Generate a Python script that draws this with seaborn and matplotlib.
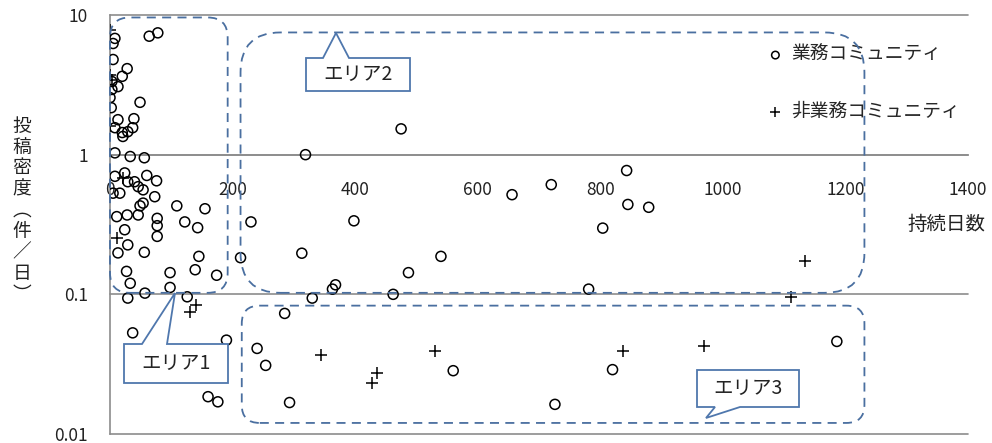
import matplotlib
matplotlib.use("Agg")
import matplotlib.pyplot as plt
import seaborn as sns
import pandas as pd
import numpy as np
from matplotlib.patches import FancyBboxPatch, PathPatch
from matplotlib.path import Path
from matplotlib.transforms import IdentityTransform
from matplotlib.ticker import FixedLocator, FixedFormatter, NullLocator

# 業務コミュニティ (days, posts/day)
biz_days = [8, 5, 64, 78, 5, 28, 20, 3, 13, 3, 0, 49, 2, 13, 39, 8, 20, 29, 37, 21,
            8, 33, 56, 8, 24, 29, 40, 60, 76, 5, 16, 46, 54, 73, 54, 49, 109, 155,
            11, 28, 46, 77, 122, 143, 24, 77, 77, 29, 13, 56, 145, 139, 27, 98, 33,
            98, 174, 57, 29, 126, 37, 190, 160, 176,
            319, 475, 230, 213, 398, 313, 540, 487, 368, 363, 462, 330, 781, 285,
            240, 254, 293, 560, 726, 820, 656, 720, 843, 845, 879, 804, 1186]
biz_density = [6.8, 6.25, 7.05, 7.45, 4.8, 4.13, 3.64, 3.34, 3.07, 2.93, 2.56, 2.37, 2.17,
               1.78, 1.81, 1.56, 1.44, 1.46, 1.56, 1.35,
               1.03, 0.97, 0.95, 0.70, 0.74, 0.64, 0.64, 0.71, 0.65, 0.53, 0.53, 0.59,
               0.56, 0.50, 0.45, 0.43, 0.43, 0.41, 0.36, 0.37, 0.37, 0.35, 0.33, 0.30,
               0.29, 0.31, 0.26, 0.226, 0.198, 0.20, 0.187, 0.15, 0.146, 0.143, 0.12,
               0.112, 0.137, 0.102, 0.094, 0.096, 0.053, 0.047, 0.0185, 0.017,
               1.0, 1.53, 0.33, 0.183, 0.336, 0.197, 0.187, 0.143, 0.117, 0.109, 0.10,
               0.094, 0.109, 0.073, 0.041, 0.031, 0.0168, 0.0284, 0.0163, 0.0289,
               0.517, 0.61, 0.77, 0.44, 0.42, 0.298, 0.046]

# 非業務コミュニティ
nonbiz_days = [0, 0, 3, 0, 21, 11, 141, 131, 345, 436, 427, 531, 837, 969, 1134, 1111]
nonbiz_density = [7.78, 3.7, 3.4, 1.6, 0.68, 0.255, 0.084, 0.075, 0.037, 0.0275, 0.023,
                  0.0396, 0.0394, 0.043, 0.172, 0.095]

labels = ["業務コミュニティ", "非業務コミュニティ"]
x_ticks = [0, 200, 400, 600, 800, 1000, 1200, 1400]
y_ticks = [0.01, 0.1, 1, 10]
y_tick_labels = ["0.01", "0.1", "1", "10"]

df = pd.DataFrame({
    "days": biz_days + nonbiz_days,
    "density": biz_density + nonbiz_density,
    "group": [labels[0]] * len(biz_days) + [labels[1]] * len(nonbiz_days),
})

sns.set_style("white")
plt.rcParams["font.family"] = ["Noto Sans CJK JP", "DejaVu Sans"]

W, H = 992, 443
fig = plt.figure(figsize=(W / 100, H / 100), dpi=100)
ax = fig.add_axes([110 / W, 9 / H, 858 / W, 419 / H])

grey = "#8c8c8c"
blue = "#4a6fa0"
ink = "#222222"

sns.scatterplot(data=df[df.group == labels[0]], x="days", y="density", ax=ax,
                marker="o", s=52, facecolor="none", edgecolor="black",
                linewidth=1.1, label=labels[0], zorder=4)
sns.scatterplot(data=df[df.group == labels[1]], x="days", y="density", ax=ax,
                marker="+", s=85, color="black", linewidth=1.1,
                label=labels[1], zorder=4)

ax.set_yscale("log")
ax.set_xlim(0, 1400)
ax.set_ylim(0.01, 10)

for y in y_ticks:
    ax.axhline(y, color=grey, lw=1.2, zorder=1, clip_on=False)

ax.spines["top"].set_visible(False)
ax.spines["right"].set_visible(False)
ax.spines["left"].set_color(grey)
ax.spines["left"].set_linewidth(1.2)
ax.spines["bottom"].set_position(("data", 1))
ax.spines["bottom"].set_color(grey)
ax.spines["bottom"].set_linewidth(1.2)

ax.xaxis.set_major_locator(FixedLocator(x_ticks))
ax.yaxis.set_major_locator(FixedLocator(y_ticks))
ax.yaxis.set_major_formatter(FixedFormatter(y_tick_labels))
ax.yaxis.set_minor_locator(NullLocator())
ax.tick_params(axis="x", direction="out", length=5, width=1.2, color=grey,
               labelsize=12.5, pad=14, labelcolor=ink)
ax.tick_params(axis="y", direction="out", length=5, width=1.2, color=grey,
               labelsize=12.5, pad=11, labelcolor=ink)
for lab in ax.get_yticklabels():
    lab.set_verticalalignment("center_baseline")
ax.set_xlabel("")
ax.set_ylabel("")

# axis titles
fig.text(946 / W, 1 - 224 / H, "持続日数", fontsize=14, ha="center", va="center",
         color=ink)
fig.text(22 / W, 1 - 210 / H, "\n".join("投稿密度︵件／日︶"), fontsize=13.5,
         ha="center", va="center", linespacing=1.0, color=ink)

# legend
ax.legend(loc="upper left", bbox_to_anchor=(766 / W, 1 - 44 / H),
          bbox_transform=fig.transFigure, frameon=False, fontsize=13.5,
          handlelength=1.0, handletextpad=0.35, labelspacing=1.9,
          borderpad=0, borderaxespad=0, markerscale=0.75)

# dashed area outlines (data extents -> display)
areas = [((0, 192), (0.1025, 9.6), 20),
         ((213, 1231), (0.1025, 7.5), 40),
         ((215, 1231), (0.012, 0.083), 18)]
fig.canvas.draw()
for (x0, x1), (y0, y1), r in areas:
    (px0, py0), (px1, py1) = ax.transData.transform([(x0, y0), (x1, y1)])
    box = FancyBboxPatch((px0 + r, py0 + r), px1 - px0 - 2 * r, py1 - py0 - 2 * r,
                         boxstyle=f"round,pad={r},rounding_size={r}",
                         transform=IdentityTransform(), fill=False,
                         edgecolor=blue, lw=1.3, ls=(0, (5, 3.5)), zorder=3)
    fig.add_artist(box)


def callout(box, base, tip, text):
    # box: (left, top, right, bottom) in image pixels; pointer on top or bottom edge
    l, t, r, b = box
    bx0, bx1 = base
    if tip[1] < t:
        pts = [(l, t), (bx0, t), tip, (bx1, t), (r, t), (r, b), (l, b), (l, t)]
    else:
        pts = [(l, t), (r, t), (r, b), (bx1, b), tip, (bx0, b), (l, b), (l, t)]
    verts = [(x, H - y) for x, y in pts]
    codes = [Path.MOVETO] + [Path.LINETO] * (len(verts) - 2) + [Path.CLOSEPOLY]
    fig.add_artist(PathPatch(Path(verts, codes), transform=IdentityTransform(),
                             facecolor="white", edgecolor="#4f77ad", lw=1.3, zorder=5))
    fig.text((l + r) / 2 / W, 1 - (t + b) / 2 / H, text, fontsize=14,
             ha="center", va="center", color=ink, zorder=6)


callout((124, 344, 228, 383), (142, 167), (175, 293), "エリア1")
callout((306, 58, 410, 91), (323, 349), (336, 33), "エリア2")
callout((697, 370, 799, 407), (715, 740), (706, 418), "エリア3")

fig.savefig("out.png", dpi=100)
